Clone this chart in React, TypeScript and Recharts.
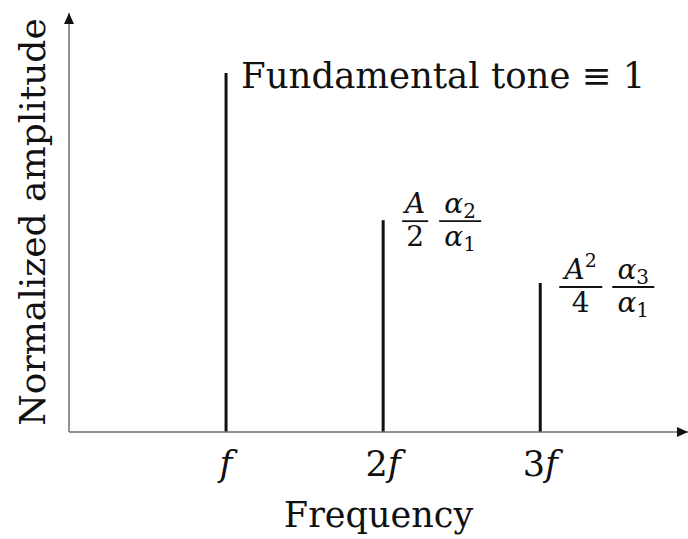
import * as React from "react"
import {
    ComposedChart,
    Bar,
    XAxis,
    YAxis,
    ReferenceDot,
    ReferenceLine,
} from 'recharts';

// harmonic number -> normalized amplitude
const harmonics = [1, 2, 3];
const amplitudes = [1, 0.59, 0.415];
const tickPrefix = ['', '2', '3'];

const X_MAX = 3.94;
const Y_MAX = 1.167;

const FONT = '"DejaVu Serif", serif';
const AXIS_COLOR = '#6e6e6e';

const chartData = harmonics.map((h, i) => ({ h, amp: amplitudes[i] }));

const FreqTick = (props: any) => {
    const { x, y, payload } = props;
    const idx = harmonics.indexOf(payload.value);
    return (
        <text x={x} y={y + 36} textAnchor="middle" fontFamily={FONT} fontSize={35} fill="#111">
            <tspan>{tickPrefix[idx]}</tspan>
            <tspan fontStyle="italic">f</tspan>
        </text>
    );
};

// simple stacked fraction: bar at y, numerator above, denominator below
function Frac({ x, y, w, num, den }: { x: number; y: number; w: number; num: React.ReactNode; den: React.ReactNode }) {
    return (
        <g fontFamily={FONT} fontSize={28} fill="#111">
            <line x1={x} x2={x + w} y1={y} y2={y} stroke="#111" strokeWidth={1.8} />
            <text x={x + w / 2} y={y - 8} textAnchor="middle">{num}</text>
            <text x={x + w / 2} y={y + 25} textAnchor="middle">{den}</text>
        </g>
    );
}

const alpha = (sub: string) => (
    <>
        <tspan fontStyle="italic">α</tspan>
        <tspan fontSize={20} dy={5}>{sub}</tspan>
    </>
);

const PeakLabel = (props: any) => {
    const { x, y, width, index } = props;
    const cx = x + width / 2;
    if (index === 0) {
        return (
            <text x={cx + 15} y={y + 15} fontFamily={FONT} fontSize={35.5} fill="#111">
                Fundamental tone ≡ 1
            </text>
        );
    }
    const fy = y + (index === 1 ? 1 : 4);
    const x0 = cx + 19;
    if (index === 1) {
        return (
            <g>
                <Frac x={x0} y={fy} w={26} num={<tspan fontStyle="italic">A</tspan>} den="2" />
                <Frac x={x0 + 37} y={fy} w={42} num={alpha('2')} den={alpha('1')} />
            </g>
        );
    }
    return (
        <g>
            <Frac
                x={x0}
                y={fy}
                w={43}
                num={<><tspan fontStyle="italic">A</tspan><tspan fontSize={19} dy={-12}>2</tspan></>}
                den="4"
            />
            <Frac x={x0 + 53} y={fy} w={42} num={alpha('3')} den={alpha('1')} />
        </g>
    );
};

const ArrowRight = (props: any) => {
    const { cx, cy } = props;
    return <path d={`M${cx},${cy} L${cx - 11},${cy - 5} L${cx - 11},${cy + 5} Z`} fill="#111" />;
};

const ArrowUp = (props: any) => {
    const { cx, cy } = props;
    return <path d={`M${cx},${cy} L${cx - 5},${cy + 11} L${cx + 5},${cy + 11} Z`} fill="#111" />;
};

export default function App() {
    return (
        <div style={{ position: 'absolute', left: 0, top: 0, width: 688, height: 539, background: '#fff' }}>
            <ComposedChart
                width={688}
                height={539}
                data={chartData}
                margin={{ top: 13, right: 0, left: 69, bottom: 0 }}
            >
                <XAxis
                    dataKey="h"
                    type="number"
                    domain={[0, X_MAX]}
                    ticks={harmonics}
                    tick={<FreqTick />}
                    tickLine={false}
                    axisLine={{ stroke: AXIS_COLOR, strokeWidth: 1.5 }}
                    height={107}
                    allowDataOverflow
                    label={{
                        value: 'Frequency',
                        position: 'insideBottom',
                        offset: 12,
                        fontFamily: FONT,
                        fontSize: 35,
                        fill: '#111',
                    }}
                />
                <YAxis
                    type="number"
                    domain={[0, Y_MAX]}
                    width={0}
                    tick={false}
                    tickLine={false}
                    axisLine={false}
                    allowDataOverflow
                />
                <ReferenceLine
                    segment={[{ x: 0, y: 0 }, { x: 0, y: Y_MAX }]}
                    stroke={AXIS_COLOR}
                    strokeWidth={1.5}
                    ifOverflow="visible"
                />
                <Bar dataKey="amp" fill="#111" barSize={3} isAnimationActive={false} label={<PeakLabel />} />
                <ReferenceDot x={X_MAX} y={0} r={0} ifOverflow="visible" shape={<ArrowRight />} />
                <ReferenceDot x={0} y={Y_MAX} r={0} ifOverflow="visible" shape={<ArrowUp />} />
            </ComposedChart>
            <svg width={688} height={539} style={{ position: 'absolute', left: 0, top: 0, pointerEvents: 'none' }}>
                <text
                    x={0}
                    y={0}
                    transform="translate(45,222) rotate(-90)"
                    textAnchor="middle"
                    fontFamily={FONT}
                    fontSize={36}
                    fill="#111"
                >
                    Normalized amplitude
                </text>
            </svg>
        </div>
    );
}
